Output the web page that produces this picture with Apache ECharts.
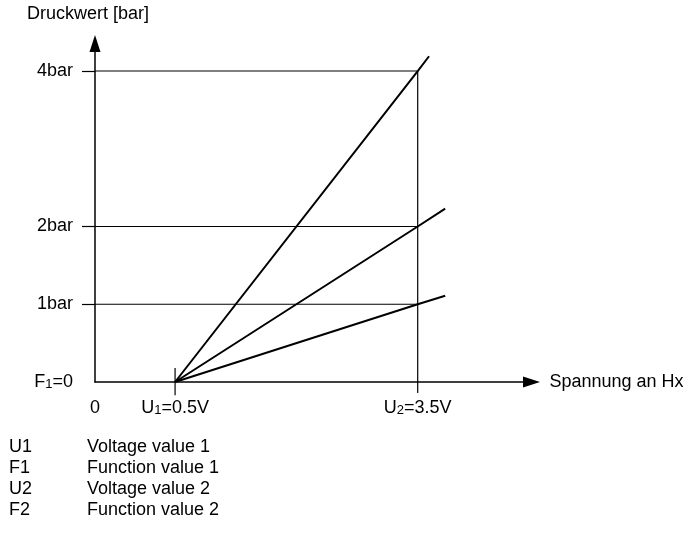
<!DOCTYPE html>
<html>
<head>
<meta charset="utf-8">
<script src="https://cdn.jsdelivr.net/npm/echarts@6/dist/echarts.min.js"></script>
<style>
  html, body { margin: 0; padding: 0; background: #fff; }
  #chart { width: 694px; height: 534px; }
</style>
</head>
<body>
<div id="chart"></div>
<script>
// Pressure levels F2 (bar) of the three characteristic lines
const pressureLevels = [1, 2, 4];
// Voltage points (V) and function value at U1
const u1 = 0.5;
const u2 = 3.5;
const f1 = 0;
// Where each characteristic line stops past U2: [volts, bar]
const lineEnds = [[3.84, 1.11], [3.84, 2.23], [3.64, 4.19]];
// Explanation of the symbols below the diagram
const legendKeys = ['U1', 'F1', 'U2', 'F2'];
const legendTexts = ['Voltage value 1', 'Function value 1', 'Voltage value 2', 'Function value 2'];

const FONT = "'Liberation Sans', Arial, sans-serif";
const FS = 18;
const INK = '#000';

// Axis extents of the schematic
const xMin = -0.49, xMax = 4.907;
const yMin = 0, yMax = 4.354;

const rich = {
  n: { fontFamily: FONT, fontSize: FS, color: INK },
  s: { fontFamily: FONT, fontSize: 13, color: INK, padding: [5, 0, 0, 0] }
};

const thin = { color: INK, width: 1.2 };
const plain = (data, style) => ({
  type: 'line', data, symbol: 'none', clip: false, silent: true,
  lineStyle: style || thin, z: 3
});

const series = [];
// Horizontal level lines from the pressure axis to U2
pressureLevels.forEach(p => series.push(plain([[xMin, p], [u2, p]])));
// Vertical line at U2, reaching a little below the voltage axis
series.push(plain([[u2, f1 - 0.14], [u2, Math.max(...pressureLevels)]]));
// Tick mark at U1 crossing the voltage axis
series.push(plain([[u1, f1 + 0.18], [u1, f1 - 0.17]]));
// Characteristic lines from (U1, F1) through (U2, F2)
pressureLevels.forEach((p, i) => {
  series.push({
    type: 'line', symbol: 'none', clip: false, silent: true, z: 4,
    lineStyle: { color: INK, width: 2 },
    data: [
      [u1, f1],
      [u2, p],
      { value: lineEnds[i], label: {
          show: true, position: 'right', distance: 5,
          formatter: 'F2=' + p,
          fontFamily: FONT, fontSize: FS, color: INK
        } }
    ]
  });
});

const near = (a, b) => Math.abs(a - b) < 1e-6;

const option = {
  animation: false,
  backgroundColor: '#fff',
  grid: { left: 95, right: 162.5, top: 43.5, bottom: 152 },
  xAxis: {
    type: 'value', min: xMin, max: xMax,
    name: 'Spannung an Hx', nameLocation: 'end', nameGap: 18,
    nameTextStyle: { fontFamily: FONT, fontSize: FS, color: INK },
    axisLine: { show: true, onZero: false, lineStyle: { color: INK, width: 1.5 },
      symbol: ['none', 'triangle'], symbolSize: [11, 17] },
    axisTick: { show: false },
    splitLine: { show: false },
    axisLabel: {
      customValues: [xMin, u1, u2], margin: 17,
      formatter: v => near(v, xMin) ? '{n|0}'
        : near(v, u1) ? '{n|U}{s|1}{n|=' + u1 + 'V}'
        : '{n|U}{s|2}{n|=' + u2 + 'V}',
      rich
    }
  },
  yAxis: {
    type: 'value', min: yMin, max: yMax,
    name: 'Druckwert [bar]', nameLocation: 'end', nameGap: 20,
    nameTextStyle: { fontFamily: FONT, fontSize: FS, color: INK, align: 'center', padding: [0, 14, 0, 0] },
    axisLine: { show: true, onZero: false, lineStyle: { color: INK, width: 1.5 },
      symbol: ['none', 'triangle'], symbolSize: [11, 17] },
    axisTick: { show: true, customValues: pressureLevels, length: 13, lineStyle: thin },
    splitLine: { show: false },
    axisLabel: {
      customValues: [f1].concat(pressureLevels), margin: 22,
      formatter: v => near(v, f1) ? '{n|F}{s|1}{n|=' + f1 + '}' : '{n|' + v + 'bar}',
      rich
    }
  },
  graphic: legendKeys.flatMap((k, i) => [
    { type: 'text', left: 9, top: 438 + i * 21,
      style: { text: k, fontFamily: FONT, fontSize: FS, fill: INK } },
    { type: 'text', left: 87, top: 438 + i * 21,
      style: { text: legendTexts[i], fontFamily: FONT, fontSize: FS, fill: INK } }
  ]),
  series
};

const chart = echarts.init(document.getElementById('chart'), null, { renderer: 'canvas' });
chart.setOption(option);
</script>
</body>
</html>
